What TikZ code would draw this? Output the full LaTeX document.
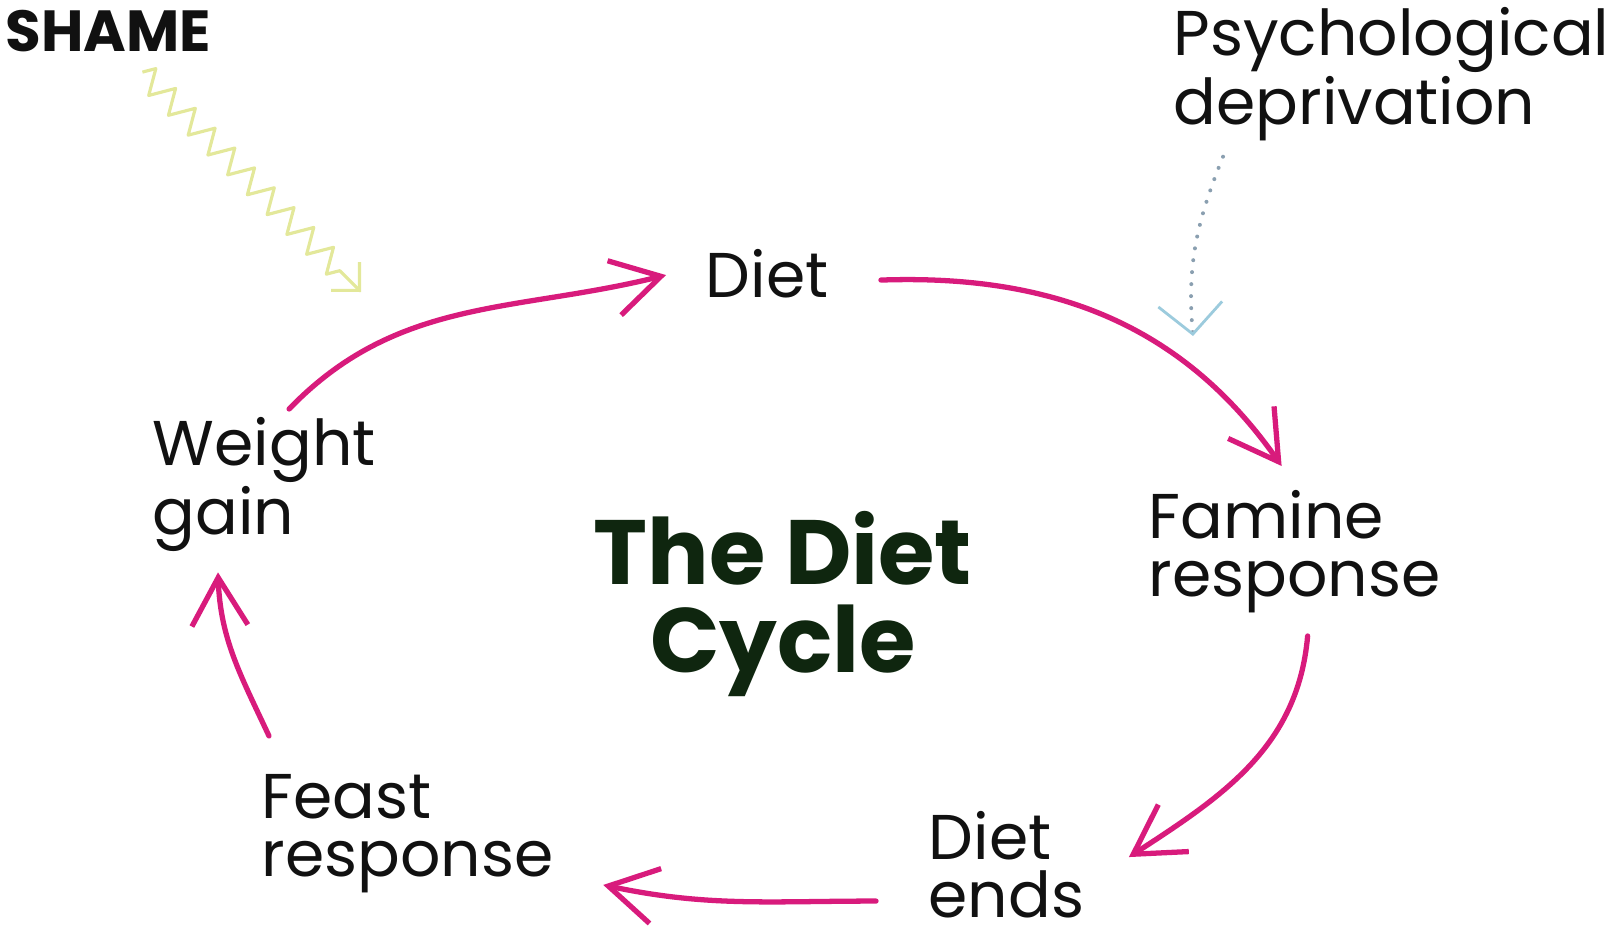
\documentclass[tikz,border=0pt]{standalone}
\usepackage{fontspec}
\setmainfont{Poppins}
\usetikzlibrary{arrows.meta,decorations.pathmorphing}
\definecolor{loop}{HTML}{D81B7C}
\definecolor{shamey}{HTML}{E3E89A}
\definecolor{deprb}{HTML}{9CCBDD}
\definecolor{deprdot}{HTML}{8A9FB0}
\definecolor{ink}{HTML}{111111}
\definecolor{titleink}{HTML}{0F260F}

\begin{document}
\begin{tikzpicture}[x=0.1mm,y=0.1mm,
    lbl/.style={font=\fontsize{18}{16.5}\selectfont,align=left,inner sep=0pt,text=ink,anchor=north west},
    cyc/.style={draw=loop,line width=1.5pt,line cap=round,
      -{Straight Barb[length=4.8mm,width=5.6mm]}}]
    \useasboundingbox (0,0) rectangle (1607,939);

    % the five steps of the loop, plus the note top right
    \foreach \nm/\px/\py/\lab in {%
      diet/705/690/{Diet},
      famine/1148/449/{Famine\\response},
      dietend/928/128/{Diet\\ends},
      feast/261/165/{Feast\\response},
      gain/152/522/{Weight\\gain},
      psych/1173/932/{Psychological\\deprivation}}{
      \node[lbl] (\nm) at (\px,\py) {\lab};}

    \node[lbl,font=\fontsize{16.5}{16}\bfseries\selectfont] (shame) at (5,929) {SHAME};
    \node[font=\fontsize{26}{25}\bfseries\selectfont,text=titleink,align=center,inner sep=0pt]
      (cycle) at (783,335) {The Diet\\Cycle};

    \draw[cyc] ([shift={(25,8)}]gain.north) to[out=46,in=194] ([shift={(-39,-1)}]diet.west);
    \draw[cyc] ([shift={(52,-6)}]diet.east) to[out=2,in=125] ([shift={(-13,24)}]famine.north);
    \draw[cyc] ([shift={(13,-22)}]famine.south) to[out=-95,in=33] ([shift={(44,8)}]dietend.east);
    \draw[cyc] ([shift={(-52,-36)}]dietend.west) to[out=180,in=-12] ([shift={(49,9)}]feast.south east);
    \draw[cyc] ([shift={(8,38)}]feast.north west) to[out=115,in=-88] ([shift={(66,-20)}]gain.south west);

    % outside pressures feeding in
    \coordinate (shamehit) at (361,647);
    \coordinate (deprhit) at (1193,603);
    \draw[draw=shamey,line width=0.9pt,line join=round,decorate,
      decoration={zigzag,segment length=2.8mm,amplitude=1.2mm,post length=2.5mm},
      -{Straight Barb[length=2mm,width=4mm]}]
      ([shift={(34,-19)}]shame.south) -- (shamehit);
    \draw[draw=deprdot,line width=0.4mm,line cap=round,dash pattern=on 0pt off 1.2mm,
      -{Straight Barb[length=3mm,width=6.4mm,line width=0.8pt,color=deprb]}]
      ([shift={(50,-15)}]psych.south west) to[out=-112,in=95] (deprhit);
  \end{tikzpicture}
\end{document}
